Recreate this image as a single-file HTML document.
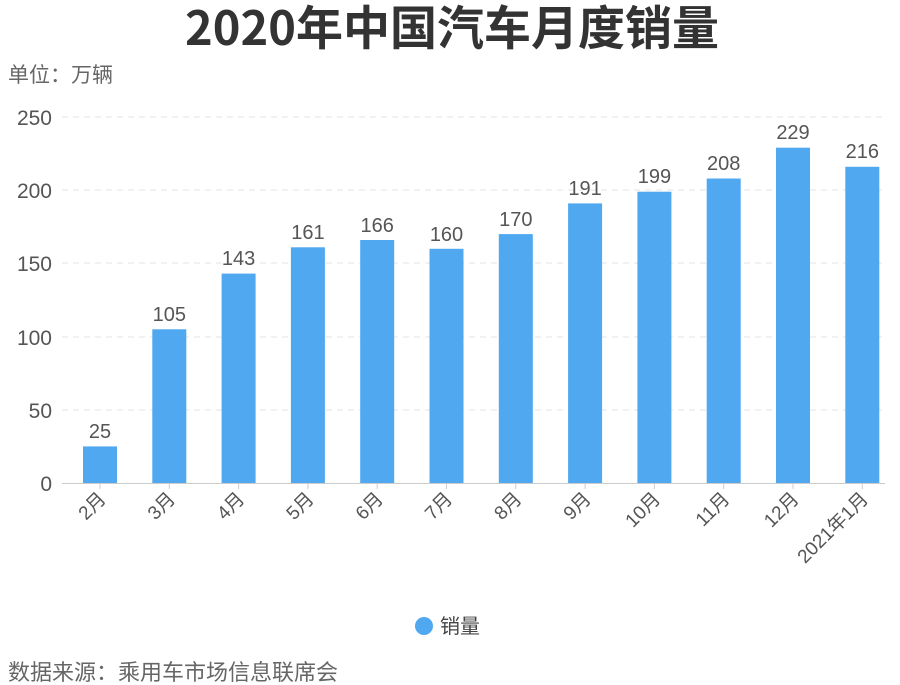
<!DOCTYPE html>
<html><head><meta charset="utf-8"><style>
body{margin:0;background:#fff;}
svg{display:block;font-family:"Liberation Sans","Noto Sans CJK SC",sans-serif;}
</style></head><body>
<svg width="900" height="685" viewBox="0 0 900 685">
<text x="452" y="45" text-anchor="middle" font-size="47" font-weight="bold" fill="#333" font-family="'Noto Sans CJK SC',sans-serif">2020年中国汽车月度销量</text>
<text x="8" y="82" font-size="21" fill="#666">单位：万辆</text>
<g stroke="#e3e3e3" stroke-dasharray="6,5" stroke-width="1">
<line x1="62" x2="885" y1="117" y2="117"/>
<line x1="62" x2="885" y1="190" y2="190"/>
<line x1="62" x2="885" y1="263" y2="263"/>
<line x1="62" x2="885" y1="337" y2="337"/>
<line x1="62" x2="885" y1="410" y2="410"/>
</g>
<g font-size="21" fill="#555" text-anchor="end">
<text x="52" y="125">250</text><text x="52" y="198">200</text><text x="52" y="271">150</text>
<text x="52" y="345">100</text><text x="52" y="418">50</text><text x="52" y="491">0</text>
</g>
<line x1="62" x2="885" y1="483.5" y2="483.5" stroke="#ccc"/>
<g fill="#4fa8f0">
<rect x="83" y="446.4" width="34" height="36.6"/>
<rect x="152.3" y="329.3" width="34" height="153.7"/>
<rect x="221.6" y="273.6" width="34" height="209.4"/>
<rect x="290.9" y="247.3" width="34" height="235.7"/>
<rect x="360.2" y="240" width="34" height="243"/>
<rect x="429.5" y="248.8" width="34" height="234.2"/>
<rect x="498.8" y="234.1" width="34" height="248.9"/>
<rect x="568.1" y="203.4" width="34" height="279.6"/>
<rect x="637.4" y="191.7" width="34" height="291.3"/>
<rect x="706.7" y="178.5" width="34" height="304.5"/>
<rect x="776" y="147.7" width="34" height="335.3"/>
<rect x="845.3" y="166.8" width="34" height="316.2"/>
</g>
<g stroke="#ccc">
<line x1="100" x2="100" y1="484" y2="489"/><line x1="169.3" x2="169.3" y1="484" y2="489"/>
<line x1="238.6" x2="238.6" y1="484" y2="489"/><line x1="307.9" x2="307.9" y1="484" y2="489"/>
<line x1="377.2" x2="377.2" y1="484" y2="489"/><line x1="446.5" x2="446.5" y1="484" y2="489"/>
<line x1="515.8" x2="515.8" y1="484" y2="489"/><line x1="585.1" x2="585.1" y1="484" y2="489"/>
<line x1="654.4" x2="654.4" y1="484" y2="489"/><line x1="723.7" x2="723.7" y1="484" y2="489"/>
<line x1="793" x2="793" y1="484" y2="489"/><line x1="862.3" x2="862.3" y1="484" y2="489"/>
</g>
<g font-size="20" fill="#555" text-anchor="middle">
<text x="100" y="438">25</text><text x="169.3" y="321">105</text><text x="238.6" y="265">143</text>
<text x="307.9" y="239">161</text><text x="377.2" y="232">166</text><text x="446.5" y="241">160</text>
<text x="515.8" y="226">170</text><text x="585.1" y="195">191</text><text x="654.4" y="183">199</text>
<text x="723.7" y="170">208</text><text x="793" y="139">229</text><text x="862.3" y="158">216</text>
</g>
<g font-size="19" fill="#555" text-anchor="end">
<text transform="translate(107,500) rotate(-45)">2月</text>
<text transform="translate(176.3,500) rotate(-45)">3月</text>
<text transform="translate(245.6,500) rotate(-45)">4月</text>
<text transform="translate(314.9,500) rotate(-45)">5月</text>
<text transform="translate(384.2,500) rotate(-45)">6月</text>
<text transform="translate(453.5,500) rotate(-45)">7月</text>
<text transform="translate(522.8,500) rotate(-45)">8月</text>
<text transform="translate(592.1,500) rotate(-45)">9月</text>
<text transform="translate(661.4,500) rotate(-45)">10月</text>
<text transform="translate(730.7,500) rotate(-45)">11月</text>
<text transform="translate(800,500) rotate(-45)">12月</text>
<text transform="translate(869.3,500) rotate(-45)">2021年1月</text>
</g>
<circle cx="424" cy="626" r="9" fill="#4fa8f0"/>
<text x="440" y="633" font-size="20" fill="#444">销量</text>
<text x="8" y="680" font-size="22" fill="#666">数据来源：乘用车市场信息联席会</text>
</svg>
</body></html>
